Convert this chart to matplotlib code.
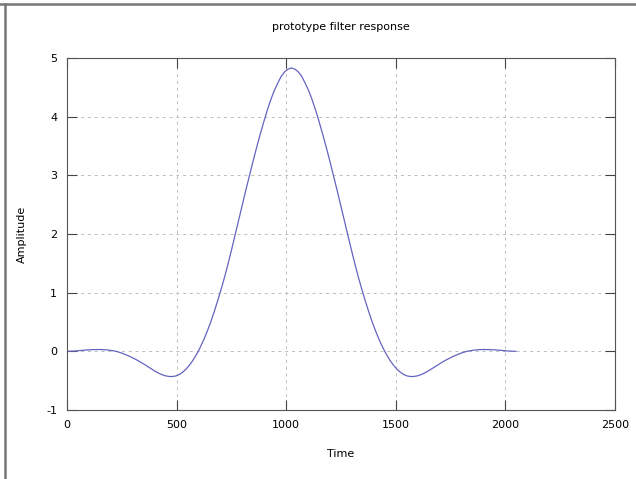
import numpy as np
import matplotlib.pyplot as plt
from matplotlib.lines import Line2D

plt.rcParams['axes.unicode_minus'] = False

# sample index of the prototype filter (every 16 samples)
t = np.arange(0, 2049, 16)

# amplitude, first half (t = 0 .. 1024)
amp_left = [0.000, 0.002, 0.005, 0.010, 0.015, 0.020, 0.025, 0.028,
            0.030, 0.031, 0.030, 0.026, 0.020, 0.011, 0.000, -0.018,
            -0.038, -0.063, -0.090, -0.119, -0.150, -0.184, -0.220, -0.259,
            -0.297, -0.335, -0.368, -0.396, -0.416, -0.428, -0.430, -0.420,
            -0.395, -0.355, -0.300, -0.230, -0.145, -0.045, 0.070, 0.200,
            0.345, 0.505, 0.680, 0.870, 1.070, 1.280, 1.510, 1.750,
            2.000, 2.250, 2.500, 2.750, 2.990, 3.230, 3.460, 3.680,
            3.890, 4.090, 4.270, 4.430, 4.560, 4.680, 4.760, 4.810,
            4.830]

# second half (t = 1040 .. 2048)
amp_right = [4.810, 4.760, 4.680, 4.560, 4.430, 4.270, 4.090, 3.890,
             3.680, 3.460, 3.230, 2.990, 2.750, 2.500, 2.250, 2.000,
             1.750, 1.510, 1.280, 1.070, 0.870, 0.680, 0.505, 0.345,
             0.200, 0.070, -0.045, -0.145, -0.230, -0.300, -0.355, -0.395,
             -0.420, -0.430, -0.428, -0.416, -0.396, -0.368, -0.335, -0.297,
             -0.259, -0.220, -0.184, -0.150, -0.119, -0.090, -0.063, -0.038,
             -0.018, 0.000, 0.011, 0.020, 0.026, 0.030, 0.031, 0.030,
             0.028, 0.025, 0.020, 0.015, 0.010, 0.005, 0.002, 0.000]

amp = amp_left + amp_right

xticks = [0, 500, 1000, 1500, 2000, 2500]
yticks = [-1, 0, 1, 2, 3, 4, 5]

fig = plt.figure(figsize=(6.36, 4.79), dpi=100)
ax = fig.add_axes([67/636, 1 - 410/479, (615 - 67)/636, (410 - 58)/479])

ax.plot(t, amp, color='#6464c0', linewidth=0.9)

ax.set_xlim(0, 2500)
ax.set_ylim(-1, 5)
ax.set_xticks(xticks)
ax.set_yticks(yticks)
ax.tick_params(direction='in', length=7, width=0.8, color='#444444',
               labelsize=8, top=True, right=True, pad=7)
ax.grid(True, linestyle=(0, (3, 4)), color='#bbbbbb', linewidth=0.7)
for s in ax.spines.values():
    s.set_color('#555555')
    s.set_linewidth(0.8)

ax.set_title('prototype filter response', fontsize=8, pad=20)
ax.set_xlabel('Time', fontsize=8, labelpad=14)
ax.set_ylabel('Amplitude', fontsize=8, labelpad=14)

# outer frame of the screenshot
fig.add_artist(Line2D([0, 1], [1 - 4/479, 1 - 4/479], color='#777777', linewidth=1.8))
fig.add_artist(Line2D([5/636, 5/636], [0, 1 - 4/479], color='#777777', linewidth=1.8))

fig.savefig('out.png', dpi=100)
